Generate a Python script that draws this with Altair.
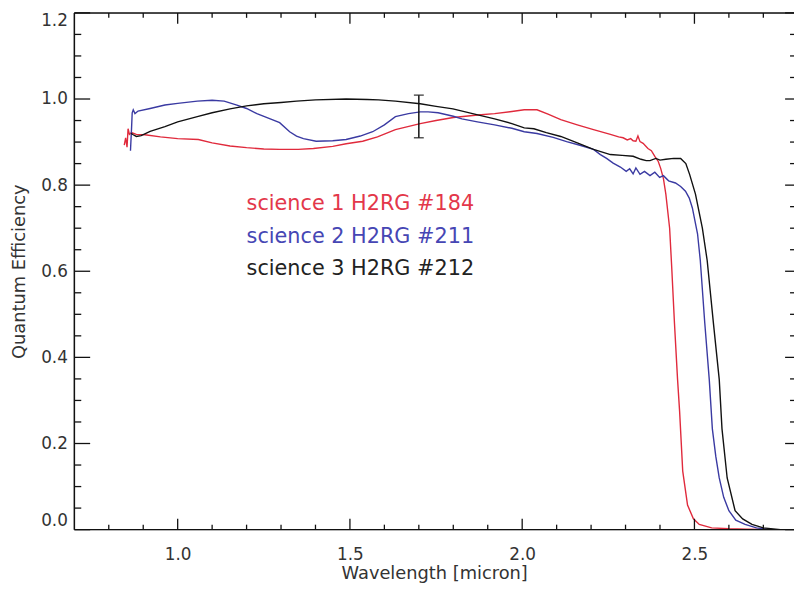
import altair as alt
import pandas as pd

SERIES = ["science 1 H2RG #184", "science 2 H2RG #211", "science 3 H2RG #212"]
LINE_COLORS = ["#e02a3c", "#3a3aa2", "#111111"]
TEXT_COLORS = ["#e3374a", "#4646b4", "#222222"]

RED_X = [0.845, 0.849, 0.853, 0.856, 0.860, 0.866, 0.880, 0.905, 0.95, 1.0, 1.06, 1.10, 1.152, 1.20, 1.25,
         1.296, 1.35, 1.394, 1.45, 1.489, 1.537, 1.58, 1.632, 1.704, 1.75, 1.80, 1.871, 1.92, 1.97, 2.006,
         2.043, 2.075, 2.112, 2.16, 2.207, 2.256, 2.28, 2.293, 2.305, 2.315, 2.322, 2.330, 2.336, 2.342,
         2.351, 2.365, 2.375, 2.385, 2.395, 2.402, 2.41, 2.417, 2.428, 2.434, 2.442, 2.451, 2.457, 2.466,
         2.480, 2.497, 2.514, 2.55, 2.60, 2.65, 2.72]
RED_Y = [0.893, 0.91, 0.888, 0.931, 0.918, 0.922, 0.918, 0.917, 0.912, 0.908, 0.906, 0.898, 0.891, 0.887,
         0.884, 0.883, 0.883, 0.885, 0.890, 0.896, 0.902, 0.912, 0.929, 0.943, 0.950, 0.957, 0.963, 0.966,
         0.971, 0.975, 0.975, 0.965, 0.952, 0.940, 0.929, 0.918, 0.912, 0.910, 0.905, 0.908, 0.903, 0.902,
         0.914, 0.901, 0.897, 0.885, 0.880, 0.867, 0.855, 0.839, 0.815, 0.779, 0.70, 0.61, 0.48, 0.349,
         0.274, 0.136, 0.057, 0.025, 0.012, 0.004, 0.002, 0.001, 0.0]

BLUE_X = [0.863, 0.866, 0.868, 0.871, 0.876, 0.885, 0.92, 0.963, 1.0, 1.057, 1.10, 1.135, 1.172, 1.20, 1.23,
          1.265, 1.296, 1.325, 1.345, 1.365, 1.402, 1.45, 1.489, 1.53, 1.566, 1.60, 1.632, 1.67, 1.704,
          1.727, 1.756, 1.80, 1.825, 1.87, 1.92, 1.97, 2.006, 2.043, 2.09, 2.129, 2.17, 2.207, 2.227, 2.245,
          2.264, 2.285, 2.302, 2.312, 2.322, 2.33, 2.342, 2.355, 2.371, 2.385, 2.399, 2.41, 2.425, 2.445,
          2.46, 2.474, 2.485, 2.494, 2.509, 2.517, 2.530, 2.543, 2.552, 2.562, 2.572, 2.585, 2.60, 2.62,
          2.647, 2.68, 2.72]
BLUE_Y = [0.88, 0.93, 0.968, 0.975, 0.966, 0.972, 0.978, 0.986, 0.990, 0.995, 0.997, 0.995, 0.986, 0.978,
          0.966, 0.955, 0.945, 0.924, 0.914, 0.908, 0.902, 0.903, 0.906, 0.914, 0.924, 0.940, 0.959, 0.966,
          0.970, 0.970, 0.968, 0.960, 0.954, 0.947, 0.940, 0.932, 0.924, 0.920, 0.911, 0.901, 0.892, 0.883,
          0.871, 0.862, 0.851, 0.842, 0.832, 0.838, 0.826, 0.840, 0.825, 0.832, 0.822, 0.830, 0.818, 0.822,
          0.810, 0.805, 0.797, 0.786, 0.770, 0.747, 0.687, 0.625, 0.48, 0.349, 0.234, 0.17, 0.12, 0.075,
          0.044, 0.022, 0.012, 0.004, 0.0]

BLACK_X = [0.865, 0.871, 0.880, 0.894, 0.92, 0.963, 1.0, 1.057, 1.10, 1.152, 1.20, 1.25, 1.30, 1.345, 1.40,
           1.489, 1.55, 1.583, 1.632, 1.704, 1.75, 1.799, 1.871, 1.92, 1.97, 2.006, 2.034, 2.07, 2.112, 2.16,
           2.207, 2.256, 2.29, 2.322, 2.345, 2.36, 2.371, 2.388, 2.40, 2.417, 2.44, 2.46, 2.475, 2.486,
           2.503, 2.523, 2.537, 2.555, 2.572, 2.58, 2.595, 2.618, 2.64, 2.667, 2.70, 2.75]
BLACK_Y = [0.92, 0.917, 0.913, 0.915, 0.925, 0.936, 0.947, 0.959, 0.968, 0.977, 0.984, 0.989, 0.992, 0.995,
           0.998, 1.0, 0.999, 0.998, 0.995, 0.989, 0.983, 0.977, 0.963, 0.954, 0.943, 0.933, 0.931, 0.922,
           0.913, 0.898, 0.883, 0.871, 0.869, 0.867, 0.860, 0.857, 0.857, 0.862, 0.858, 0.860, 0.862, 0.862,
           0.850, 0.825, 0.779, 0.70, 0.625, 0.48, 0.349, 0.234, 0.12, 0.044, 0.025, 0.012, 0.004, 0.0]

ERR_X = [1.70]
ERR_LO = [0.91]
ERR_HI = [1.009]

X_MAJOR = [1.0, 1.5, 2.0, 2.5]
X_MINOR = [0.8, 0.9, 1.1, 1.2, 1.3, 1.4, 1.6, 1.7, 1.8, 1.9, 2.1, 2.2, 2.3, 2.4, 2.6, 2.7]
Y_MAJOR = [0.0, 0.2, 0.4, 0.6, 0.8, 1.0, 1.2]
Y_MINOR = [0.05, 0.1, 0.15, 0.25, 0.3, 0.35, 0.45, 0.5, 0.55, 0.65, 0.7, 0.75, 0.85, 0.9, 0.95,
           1.05, 1.1, 1.15]

X_DOMAIN = [0.7, 2.789]
Y_DOMAIN = [0.0, 1.2]

W, H = 727, 522
FONT = "DejaVu Sans"

rows = []
for name, xs_, ys_ in zip(SERIES, [RED_X, BLUE_X, BLACK_X], [RED_Y, BLUE_Y, BLACK_Y]):
    for i, (a, b) in enumerate(zip(xs_, ys_)):
        rows.append({"series": name, "x": a, "y": b, "idx": i})
df = pd.DataFrame(rows)

xsc = alt.Scale(domain=X_DOMAIN, nice=False, zero=False)
ysc = alt.Scale(domain=Y_DOMAIN, nice=False, zero=False)

x_axis = alt.Axis(
    values=X_MAJOR, format=".1f", title="Wavelength [micron]", ticks=False, tickSize=0,
    domain=False, grid=False, labelPadding=17, titlePadding=2, labelFontSize=17,
    titleFontSize=18, labelColor="#333333", titleColor="#333333", titleFontWeight="normal",
    labelFont=FONT, titleFont=FONT, labelFlush=False, labelOverlap=False)
y_axis = alt.Axis(
    values=Y_MAJOR, format=".1f", title="Quantum Efficiency", ticks=False, tickSize=0,
    domain=False, grid=False, labelPadding=7, titlePadding=12, labelFontSize=17,
    titleFontSize=18, labelColor="#333333", titleColor="#333333", titleFontWeight="normal",
    labelFont=FONT, titleFont=FONT, labelFlush=True, labelOverlap=False)

lines = alt.Chart(df).mark_line(strokeWidth=1.4, clip=True).encode(
    x=alt.X("x:Q", scale=xsc, axis=x_axis),
    y=alt.Y("y:Q", scale=ysc, axis=y_axis),
    color=alt.Color("series:N", scale=alt.Scale(domain=SERIES, range=LINE_COLORS), legend=None),
    order="idx:Q",
)

one = pd.DataFrame({"a": [0]})
frame_style = dict(color="#111111", strokeWidth=1.5)
frame_left = alt.Chart(one).mark_rule(**frame_style).encode(
    x=alt.value(0), y=alt.value(0), y2=alt.value(H))
frame_bottom = alt.Chart(one).mark_rule(**frame_style).encode(
    x=alt.value(0), x2=alt.value(W), y=alt.value(H))
frame_top = alt.Chart(one).mark_rule(**frame_style).encode(
    x=alt.value(0), x2=alt.value(W), y=alt.value(0))


def xticks(vals, y0, y1):
    return alt.Chart(pd.DataFrame({"x": vals})).mark_rule(color="#111111", strokeWidth=1.3).encode(
        x=alt.X("x:Q", scale=xsc, axis=x_axis), y=alt.value(y0), y2=alt.value(y1))


def yticks(vals, x0, x1):
    return alt.Chart(pd.DataFrame({"y": vals})).mark_rule(color="#111111", strokeWidth=1.3).encode(
        y=alt.Y("y:Q", scale=ysc, axis=y_axis), x=alt.value(x0), x2=alt.value(x1))


tick_layers = [
    xticks(X_MAJOR, H, H - 11), xticks(X_MINOR, H, H - 5),
    xticks(X_MAJOR, 0, 11), xticks(X_MINOR, 0, 5),
    yticks(Y_MAJOR, 0, 16), yticks(Y_MINOR, 0, 7),
    yticks(Y_MAJOR, W, W - 9), yticks(Y_MINOR, W, W - 4),
]

err_df = pd.DataFrame({"x": ERR_X, "y": ERR_LO, "hi": ERR_HI})
err_rule = alt.Chart(err_df).mark_rule(color="#111111", strokeWidth=1.5).encode(
    x=alt.X("x:Q", scale=xsc, axis=x_axis),
    y=alt.Y("y:Q", scale=ysc, axis=y_axis), y2="hi:Q")
caps_df = pd.DataFrame({"x": ERR_X * 2, "y": ERR_LO + ERR_HI})
err_caps = alt.Chart(caps_df).mark_tick(color="#111111", orient="horizontal", size=10, thickness=1.5).encode(
    x=alt.X("x:Q", scale=xsc, axis=x_axis), y=alt.Y("y:Q", scale=ysc, axis=y_axis))

texts = []
for i, (name, col) in enumerate(zip(SERIES, TEXT_COLORS)):
    texts.append(alt.Chart(pd.DataFrame({"t": [name]})).mark_text(
        align="left", baseline="alphabetic", fontSize=21, font=FONT, color=col).encode(
        text="t:N", x=alt.value(174), y=alt.value(199 + 33 * i)))

chart = alt.layer(
    lines, *tick_layers, frame_left, frame_bottom, frame_top, err_rule, err_caps, *texts
).properties(
    width=W, height=H,
    autosize=alt.AutoSizeParams(type="none"),
    padding={"left": 67, "top": 2, "right": 0, "bottom": 53},
).configure_view(stroke=None).configure(font=FONT, background="white")

chart.save("out.html", embed_options={"renderer": "svg", "actions": False})
